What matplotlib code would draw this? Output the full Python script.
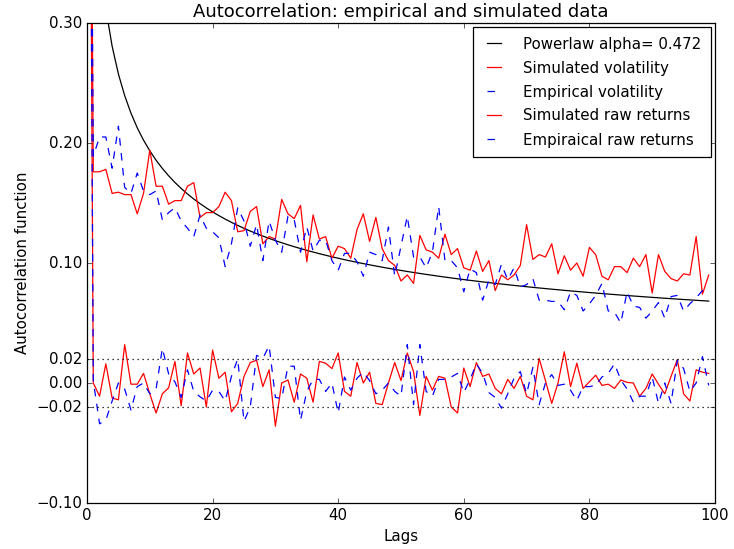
import matplotlib
matplotlib.use("Agg")
import matplotlib.pyplot as plt
import numpy as np

# autocorrelation at lags 0..99
sim_vol = [1.0,
    0.176, 0.176, 0.178, 0.158, 0.159, 0.157, 0.157, 0.141, 0.158, 0.194,
    0.164, 0.164, 0.149, 0.152, 0.152, 0.164, 0.167, 0.138, 0.142, 0.142,
    0.147, 0.159, 0.152, 0.126, 0.127, 0.143, 0.147, 0.116, 0.122, 0.120,
    0.153, 0.141, 0.137, 0.148, 0.101, 0.140, 0.120, 0.122, 0.104, 0.114,
    0.112, 0.104, 0.128, 0.141, 0.118, 0.138, 0.112, 0.102, 0.098, 0.085,
    0.090, 0.083, 0.123, 0.111, 0.109, 0.104, 0.124, 0.107, 0.112, 0.096,
    0.094, 0.110, 0.093, 0.102, 0.077, 0.090, 0.086, 0.090, 0.098, 0.132,
    0.103, 0.107, 0.105, 0.116, 0.091, 0.106, 0.094, 0.100, 0.089, 0.113,
    0.107, 0.089, 0.086, 0.097, 0.097, 0.092, 0.104, 0.097, 0.107, 0.075,
    0.107, 0.093, 0.087, 0.085, 0.091, 0.090, 0.122, 0.074, 0.090]

emp_vol = [1.0,
    0.189, 0.205, 0.205, 0.179, 0.214, 0.163, 0.158, 0.175, 0.160, 0.157,
    0.160, 0.136, 0.142, 0.146, 0.135, 0.129, 0.122, 0.140, 0.129, 0.126,
    0.121, 0.097, 0.116, 0.146, 0.135, 0.114, 0.132, 0.102, 0.135, 0.119,
    0.109, 0.139, 0.136, 0.109, 0.130, 0.110, 0.119, 0.119, 0.102, 0.094,
    0.108, 0.108, 0.101, 0.089, 0.109, 0.107, 0.102, 0.130, 0.089, 0.114,
    0.139, 0.105, 0.105, 0.096, 0.109, 0.147, 0.102, 0.102, 0.096, 0.076,
    0.095, 0.092, 0.069, 0.086, 0.082, 0.099, 0.086, 0.096, 0.080, 0.082,
    0.087, 0.069, 0.069, 0.068, 0.068, 0.061, 0.076, 0.073, 0.060, 0.066,
    0.073, 0.083, 0.060, 0.059, 0.050, 0.076, 0.064, 0.063, 0.054, 0.060,
    0.067, 0.054, 0.072, 0.073, 0.060, 0.066, 0.071, 0.077, 0.075]

sim_ret = [1.0,
    0.000, -0.011, 0.016, -0.0125, -0.014, 0.032, -0.001, -0.001, 0.008, -0.009,
    -0.025, -0.009, -0.004, 0.018, -0.019, 0.025, 0.0075, 0.0125, -0.020, 0.0275,
    0.004, 0.009, -0.024, -0.017, 0.0055, 0.017, 0.019, -0.003, 0.011, -0.036,
    0.000, 0.0025, -0.016, 0.0075, 0.004, -0.016, 0.018, 0.0165, 0.012, 0.025,
    -0.007, -0.011, 0.017, 0.000, 0.009, -0.017, -0.018, 0.000, 0.017, 0.002,
    0.025, 0.0095, -0.027, 0.0055, -0.006, 0.0055, 0.004, -0.020, -0.025, 0.0125,
    -0.003, 0.017, 0.0055, 0.0075, -0.0045, -0.009, 0.003, -0.0045, 0.0055, -0.011,
    -0.014, 0.0205, 0.002, -0.017, 0.000, 0.026, -0.003, 0.0165, -0.0045, 0.001,
    0.0065, -0.002, -0.001, -0.0045, 0.0025, 0.0005, 0.000, -0.011, -0.0045, 0.0075,
    -0.001, -0.009, 0.0055, 0.0195, -0.009, -0.015, 0.011, 0.009, 0.008]

emp_ret = [1.0,
    0.002, -0.034, -0.031, -0.015, 0.000, -0.005, -0.0225, -0.003, 0.000, -0.009,
    -0.005, 0.029, 0.0075, 0.001, -0.012, 0.011, -0.007, -0.0115, -0.015, -0.006,
    -0.007, -0.015, 0.0055, 0.020, -0.032, -0.020, 0.023, 0.0205, 0.031, -0.012,
    -0.013, 0.014, 0.014, -0.031, -0.007, 0.003, 0.003, -0.007, 0.000, -0.025,
    0.005, -0.006, 0.004, 0.009, 0.002, -0.009, -0.006, 0.000, -0.007, -0.011,
    0.032, -0.018, 0.032, -0.007, -0.011, 0.003, 0.003, 0.005, 0.008, -0.008,
    0.003, 0.016, 0.008, -0.008, -0.012, -0.021, -0.009, 0.004, 0.0095, -0.009,
    0.013, -0.018, 0.000, 0.007, -0.002, -0.001, -0.006, -0.0145, -0.003, -0.003,
    -0.002, 0.005, 0.008, 0.016, 0.0025, -0.005, -0.016, -0.011, -0.011, 0.005,
    -0.017, 0.000, -0.017, 0.019, 0.012, -0.007, 0.000, 0.022, -0.002]

# fitted power law
alpha = 0.472
scale = 0.6

yticks = [-0.10, -0.02, 0.00, 0.02, 0.10, 0.20, 0.30]
xticks = [0, 20, 40, 60, 80, 100]


def main():
    plt.style.use('classic')
    dpi = 90
    fig = plt.figure(figsize=(734 / dpi, 549 / dpi), dpi=dpi, facecolor='white')
    ax = fig.add_axes([87 / 734, 1 - 503 / 549, 628 / 734, 480 / 549])

    lags = np.arange(len(sim_vol))
    ax.plot(lags, scale * (lags + 1.0) ** (-alpha), 'k-',
            label='Powerlaw alpha= %.3f' % alpha)
    ax.plot(lags, sim_vol, 'r-', label='Simulated volatility')
    ax.plot(lags, emp_vol, 'b--', label='Empirical volatility')
    ax.plot(lags, sim_ret, 'r-', label='Simulated raw returns')
    ax.plot(lags, emp_ret, 'b--', label='Empiraical raw returns')
    ax.axhline(0.02, color='k', ls=':')
    ax.axhline(-0.02, color='k', ls=':')

    ax.set_xlim(0, 100)
    ax.set_ylim(-0.10, 0.30)
    ax.set_xticks(xticks)
    ax.set_yticks(yticks)
    ax.set_yticklabels([('%.2f' % t).replace('-', '\u2212') for t in yticks])
    ax.set_xlabel('Lags')
    ax.set_ylabel('Autocorrelation function')
    ax.set_title('Autocorrelation: empirical and simulated data')
    ax.legend(loc='upper right', fontsize=12, handlelength=1.5,
              handletextpad=1.2, borderaxespad=0.25, borderpad=0.65,
              labelspacing=0.6)

    fig.savefig('out.png', dpi=dpi, facecolor='white')


if __name__ == '__main__':
    main()
